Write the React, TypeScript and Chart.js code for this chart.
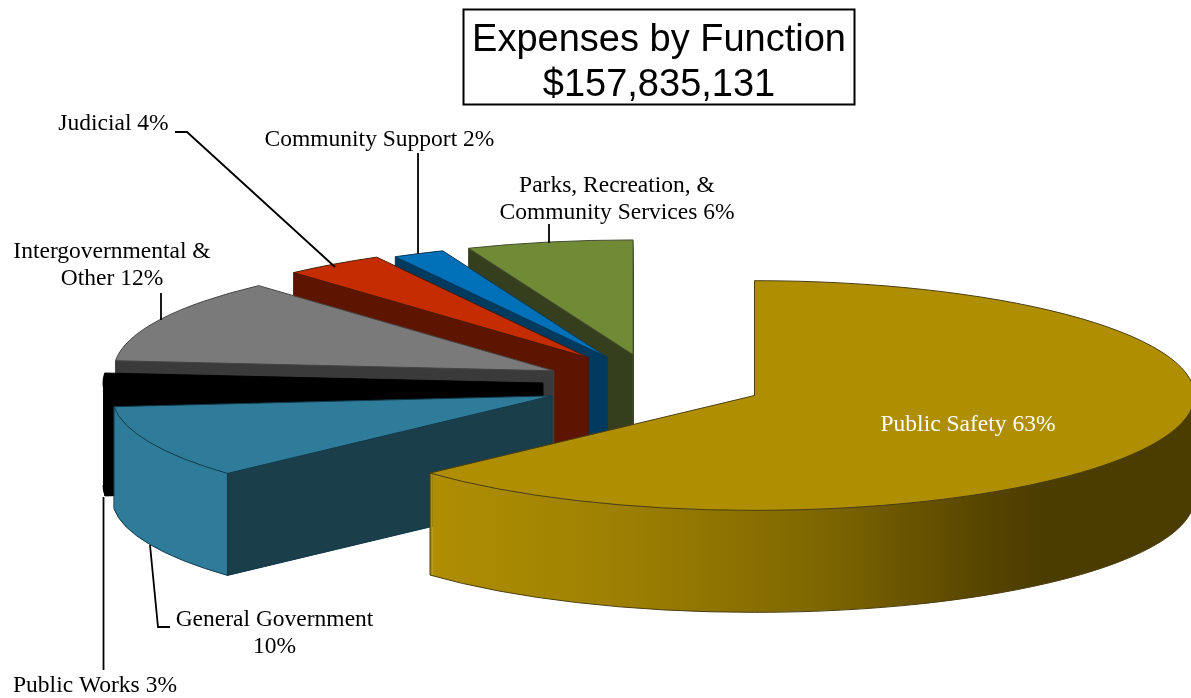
import React, { useEffect, useRef } from "react";
import { Chart, registerables } from "chart.js";

Chart.register(...registerables);

// ---- data ----
const categories = [
  "Public Safety",
  "General Government",
  "Public Works",
  "Intergovernmental & Other",
  "Judicial",
  "Community Support",
  "Parks, Recreation, & Community Services",
];
// slice sizes; the labels show them rounded
const shares = [63.2, 10.3, 2.9, 11.9, 3.7, 1.9, 6.1];
const pct = (i: number) => `${Math.round(shares[i])}%`;
const titleLines = ["Expenses by Function", "$157,835,131"];

// ---- styles ----
const topColors = ["#AF8E02", "#2E7C99", "#000000", "#7A7A7A", "#C62C02", "#0070B8", "#708A36"];
const faceColors = ["#4B3D00", "#1A3F4B", "#000000", "#3A3A3A", "#5E1500", "#003A5E", "#363F1D"];
const edgeColors = ["#4a3e10", "#123a4c", "#000000", "#444444", "#4a1a08", "#0a3a5a", "#444c30"];
const rimStops: Array<[number, string]> = [
  [0, "#AF8E02"],
  [0.22, "#A08203"],
  [0.5, "#806800"],
  [0.74, "#544300"],
  [0.8, "#4B3D00"],
  [1, "#4B3D00"],
];
const explode = [100, 121.5, 120, 122, 128, 130, 157];
const lift = [0, -2, -2, 0, 0, 3, 10];
const pieRadius = 440;
const squash = 0.261;
const depth = 102;
const centerX = 663;
const centerY = 385;
const serif = '"Liberation Serif", "Times New Roman", serif';
const sans = '"Liberation Sans", Arial, sans-serif';

type Lbl = { lines: string[]; x: number; y: number; color?: string };
const sliceLabels: Lbl[] = [
  { lines: [`${categories[0]} ${pct(0)}`], x: 968, y: 431, color: "#ffffff" },
  { lines: [categories[1], pct(1)], x: 274.5, y: 626 },
  { lines: [`${categories[2]} ${pct(2)}`], x: 95, y: 692 },
  { lines: ["Intergovernmental &", `Other ${pct(3)}`], x: 112, y: 258 },
  { lines: [`${categories[4]} ${pct(4)}`], x: 113.5, y: 130 },
  { lines: [`${categories[5]} ${pct(5)}`], x: 379.5, y: 146 },
  { lines: ["Parks, Recreation, &", `Community Services ${pct(6)}`], x: 617, y: 192 },
];
const leaders: number[][][] = [
  [[175, 132], [187, 132], [335, 267]],
  [[418, 153], [418, 254]],
  [[549, 224], [549, 243]],
  [[161, 293], [161, 320]],
  [[150, 545], [158, 627], [170, 627]],
  [[103.5, 497], [103.5, 670]],
];
const titleBox = { x: 463.5, y: 9.5, w: 391, h: 95 };

const pie3d = {
  id: "pie3d",
  beforeDatasetsDraw(chart: any) {
    const ctx: CanvasRenderingContext2D = chart.ctx;
    const arcs: any[] = chart.getDatasetMeta(0).data;

    for (let i = arcs.length - 1; i >= 0; i--) {
      const el = arcs[i];
      const R = el.outerRadius;
      const mid = (el.startAngle + el.endAngle) / 2;
      const ax = centerX + Math.cos(mid) * explode[i];
      const ay = centerY + Math.sin(mid) * explode[i] * squash + lift[i];

      const startX = el.x + R * Math.cos(el.startAngle);
      const endX = el.x + R * Math.cos(el.endAngle);
      let wall: CanvasGradient;
      if (i === 0) {
        wall = ctx.createLinearGradient(endX, 0, el.x + R, 0);
        rimStops.forEach(([t, c]) => wall.addColorStop(t, c));
      } else {
        wall = ctx.createLinearGradient(el.x - R, 0, el.x + R, 0);
        const t = Math.min(1, Math.max(0, (startX - (el.x - R)) / (2 * R)));
        wall.addColorStop(0, topColors[i]);
        wall.addColorStop(t, topColors[i]);
        wall.addColorStop(t, faceColors[i]);
        wall.addColorStop(1, faceColors[i]);
      }

      const place = (k: number) => {
        ctx.translate(ax, ay + k);
        ctx.scale(1, squash);
        ctx.translate(-el.x, -el.y);
      };

      const base = el.options;
      el.options = { ...base, backgroundColor: wall };
      for (let k = depth; k > 0; k--) {
        ctx.save();
        place(k);
        el.draw(ctx);
        ctx.restore();
      }
      el.options = base;

      const ry = R * squash;
      const px = (a: number) => ax + R * Math.cos(a);
      const py = (a: number) => ay + ry * Math.sin(a);
      const leftWall = Math.cos(el.startAngle) < -0.01;

      // solid wall, so the thin wedge tips do not fade
      if (leftWall) {
        ctx.fillStyle = faceColors[i];
        ctx.beginPath();
        ctx.moveTo(px(el.startAngle), py(el.startAngle));
        ctx.lineTo(ax, ay);
        ctx.lineTo(ax, ay + depth);
        ctx.lineTo(px(el.startAngle), py(el.startAngle) + depth);
        ctx.closePath();
        ctx.fill();
      }
      if (i === 0) {
        ctx.fillStyle = topColors[0];
        ctx.fillRect(px(el.endAngle), py(el.endAngle), 2, depth);
      }

      ctx.save();
      place(0);
      el.draw(ctx);
      ctx.restore();

      // thin edges, drawn in page space so the pen is not squashed
      ctx.save();
      ctx.strokeStyle = edgeColors[i];
      ctx.lineWidth = 1;

      ctx.beginPath();
      ctx.moveTo(ax, ay);
      ctx.ellipse(ax, ay, R, ry, 0, el.startAngle, el.endAngle);
      ctx.closePath();
      ctx.stroke();

      ctx.beginPath();
      if (leftWall) {
        ctx.moveTo(px(el.startAngle), py(el.startAngle));
        ctx.lineTo(px(el.startAngle), py(el.startAngle) + depth);
        ctx.lineTo(ax, ay + depth);
        ctx.moveTo(ax, ay);
        ctx.lineTo(ax, ay + depth);
      }
      if (Math.sin(el.endAngle) > 0) {
        ctx.moveTo(px(el.endAngle), py(el.endAngle));
        ctx.lineTo(px(el.endAngle), py(el.endAngle) + depth);
      }
      const from = Math.max(el.startAngle, 0);
      const to = Math.min(el.endAngle, Math.PI);
      if (to > from) {
        ctx.moveTo(px(from), py(from) + depth);
        ctx.ellipse(ax, ay + depth, R, ry, 0, from, to);
      }
      ctx.stroke();
      ctx.restore();
    }
    return false;
  },
  afterDraw(chart: any) {
    const ctx: CanvasRenderingContext2D = chart.ctx;
    ctx.save();

    // leader lines
    ctx.strokeStyle = "#000000";
    ctx.lineWidth = 1.8;
    leaders.forEach((pts) => {
      ctx.beginPath();
      pts.forEach(([x, y], j) => (j ? ctx.lineTo(x, y) : ctx.moveTo(x, y)));
      ctx.stroke();
    });

    // slice labels
    ctx.font = `23.5px ${serif}`;
    ctx.textAlign = "center";
    ctx.textBaseline = "alphabetic";
    sliceLabels.forEach((l) => {
      ctx.fillStyle = l.color || "#000000";
      l.lines.forEach((t, j) => ctx.fillText(t, l.x, l.y + j * 27));
    });

    // title box
    ctx.fillStyle = "#ffffff";
    ctx.fillRect(titleBox.x, titleBox.y, titleBox.w, titleBox.h);
    ctx.lineWidth = 2;
    ctx.strokeRect(titleBox.x, titleBox.y, titleBox.w, titleBox.h);
    ctx.fillStyle = "#000000";
    ctx.font = `38px ${sans}`;
    ctx.fillText(titleLines[0], 659, 51);
    ctx.fillText(titleLines[1], 659, 96);
    ctx.restore();
  },
};

export default function App() {
  const ref = useRef<HTMLCanvasElement>(null);
  useEffect(() => {
    const chart = new Chart(ref.current as HTMLCanvasElement, {
      type: "pie",
      data: {
        labels: categories,
        datasets: [
          {
            data: shares,
            backgroundColor: topColors,
            borderWidth: 0,
            radius: pieRadius,
          } as any,
        ],
      },
      options: {
        responsive: false,
        animation: false,
        plugins: { legend: { display: false }, tooltip: { enabled: false } },
      },
      plugins: [pie3d as any],
    });
    return () => chart.destroy();
  }, []);
  return (
    <canvas
      ref={ref}
      width={1191}
      height={698}
      style={{ position: "absolute", left: 0, top: 0, display: "block" }}
    />
  );
}
